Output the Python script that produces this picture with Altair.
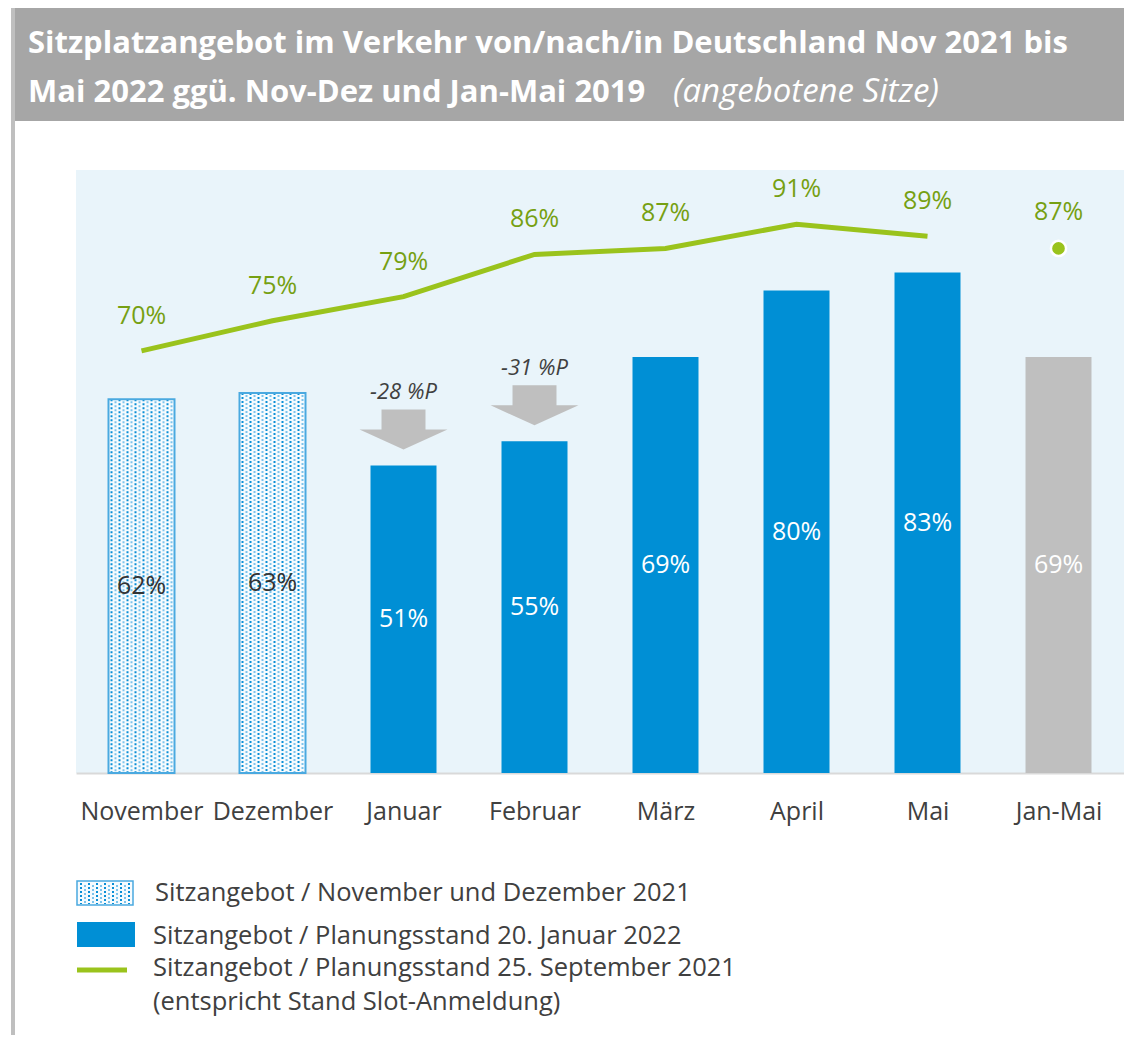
import altair as alt
import pandas as pd

categories = ["November", "Dezember", "Januar", "Februar", "März", "April", "Mai", "Jan-Mai"]
bar_values = [62, 63, 51, 55, 69, 80, 83, 69]
bar_kinds = ["dotted", "dotted", "blue", "blue", "blue", "blue", "blue", "gray"]
line_categories = ["November", "Dezember", "Januar", "Februar", "März", "April", "Mai"]
line_values = [70, 75, 79, 86, 87, 91, 89]
point_categories = ["Jan-Mai"]
point_values = [87]
arrow_categories = ["Januar", "Februar"]
arrow_labels = ["-28 %P", "-31 %P"]
title_line1 = "Sitzplatzangebot im Verkehr von/nach/in Deutschland Nov 2021 bis"
title_line2_bold = "Mai 2022 ggü. Nov-Dez und Jan-Mai 2019"
title_line2_italic = "(angebotene Sitze)"
legend_labels = [
    "Sitzangebot / November und Dezember 2021",
    "Sitzangebot / Planungsstand 20. Januar 2022",
    "Sitzangebot / Planungsstand 25. September 2021",
    "(entspricht Stand Slot-Anmeldung)",
]

FONT = "Open Sans"
TXT = "#404040"
BLUE = "#008fd5"
GRAY = "#bfbfbf"
GREEN = "#9ac31c"
GREEN_TXT = "#76a012"
DOT_BG = "#f6fbfe"
DOT = "#0a8fd6"
DOT_LIGHT = "#7cc4ec"

W, H = 1048, 603
idx = {c: i for i, c in enumerate(categories)}

bars = pd.DataFrame({
    "cat": categories,
    "i": list(range(len(categories))),
    "value": bar_values,
    "kind": bar_kinds,
    "label": [f"{v}%" for v in bar_values],
})
line_df = pd.DataFrame({
    "cat": line_categories,
    "i": [idx[c] for c in line_categories],
    "value": line_values,
    "label": [f"{v}%" for v in line_values],
})
point_df = pd.DataFrame({
    "cat": point_categories,
    "i": [idx[c] for c in point_categories],
    "value": point_values,
    "label": [f"{v}%" for v in point_values],
})
arrow_df = pd.DataFrame({
    "cat": arrow_categories,
    "i": [idx[c] for c in arrow_categories],
    "value": [bar_values[idx[c]] for c in arrow_categories],
    "label": arrow_labels,
})
one = pd.DataFrame({"k": [0]})

label_expr = "[" + ",".join(f"'{c}'" for c in categories) + "][datum.value]"
X = alt.X(
    "i:Q",
    scale=alt.Scale(domain=[-0.5, len(categories) - 0.5], nice=False, zero=False, padding=0),
    axis=alt.Axis(
        values=list(range(len(categories))), labelExpr=label_expr, title=None,
        ticks=False, tickSize=0, grid=False, domainColor="#d9d9d9", domainWidth=2,
        labelFont=FONT, labelFontSize=25, labelColor=TXT, labelPadding=38,
        labelBaseline="middle", labelAngle=0,
    ),
)
Y = alt.Y("value:Q", scale=alt.Scale(domain=[0, 100], nice=False), axis=None)

kind_scale = alt.Scale(domain=["dotted", "blue", "gray"], range=[DOT_BG, BLUE, GRAY])

bar_layer = alt.Chart(bars).mark_bar(size=66).encode(
    x=X, y=Y, color=alt.Color("kind:N", scale=kind_scale, legend=None)
)

dotted = bars[bars["kind"] == "dotted"]
dot_layers = []
for k in range(16):
    dot_layers.append(
        alt.Chart(dotted).mark_rule(
            xOffset=-30 + 4 * k, strokeDash=[2, 2], strokeDashOffset=(k % 2) * 2,
            strokeWidth=2, color=DOT if k % 2 == 0 else DOT_LIGHT,
        ).encode(x=X, y=Y, y2=alt.datum(0))
    )
dot_outline = alt.Chart(dotted).mark_bar(
    size=66, fillOpacity=0, stroke="#4aa9e0", strokeWidth=2
).encode(x=X, y=Y)

bar_text = alt.Chart(bars).transform_calculate(mid="datum.value / 2").mark_text(
    font=FONT, fontSize=25, baseline="middle"
).encode(
    x=X, y=alt.Y("mid:Q", scale=alt.Scale(domain=[0, 100], nice=False), axis=None),
    text="label:N",
    color=alt.condition(alt.datum.kind == "dotted", alt.value("#333333"), alt.value("white")),
)

line_layer = alt.Chart(line_df).mark_line(color=GREEN, strokeWidth=5).encode(x=X, y=Y)
line_text = alt.Chart(line_df).mark_text(
    font=FONT, fontSize=25, dy=-35, color=GREEN_TXT, baseline="middle"
).encode(x=X, y=Y, text="label:N")
point_layer = alt.Chart(point_df).mark_point(
    shape="circle", filled=True, size=230, fill=GREEN, stroke="white", strokeWidth=2.5, opacity=1
).encode(x=X, y=Y)
point_text = alt.Chart(point_df).mark_text(
    font=FONT, fontSize=25, dy=-36, color=GREEN_TXT, baseline="middle"
).encode(x=X, y=Y, text="label:N")

arrow_path = "M-0.5,-0.455L0.5,-0.455L0.5,0L1,0L0,0.455L-1,0L-0.5,0Z"
arrow_layer = alt.Chart(arrow_df).mark_point(
    shape=arrow_path, filled=True, size=88 * 88, color=GRAY, opacity=1, strokeWidth=0, yOffset=-36
).encode(x=X, y=Y)
arrow_text = alt.Chart(arrow_df).mark_text(
    font=FONT, fontSize=22, fontStyle="italic", color=TXT, dy=-73, baseline="middle"
).encode(x=X, y=Y, text="label:N")

# Title bar and frame
title_rect = alt.Chart(one).mark_rect(color="#a6a6a6").encode(
    x=alt.value(-65), x2=alt.value(W), y=alt.value(-162), y2=alt.value(-49)
)
left_border = alt.Chart(one).mark_rule(color=GRAY, strokeWidth=4).encode(
    x=alt.value(-63), y=alt.value(-162), y2=alt.value(870)
)
t1 = alt.Chart(one).mark_text(
    font=FONT, fontSize=31, fontWeight="bold", color="white", align="left", baseline="alphabetic"
).encode(x=alt.value(-48), y=alt.value(-117), text=alt.value(title_line1))
t2 = alt.Chart(one).mark_text(
    font=FONT, fontSize=31, fontWeight="bold", color="white", align="left", baseline="alphabetic"
).encode(x=alt.value(-48), y=alt.value(-68), text=alt.value(title_line2_bold))
t3 = alt.Chart(one).mark_text(
    font=FONT, fontSize=33, fontStyle="italic", color="white", align="left", baseline="alphabetic"
).encode(x=alt.value(597), y=alt.value(-68), text=alt.value(title_line2_italic))

# Legend
lg_rect1 = alt.Chart(one).mark_rect(color=DOT_BG, stroke="#4aa9e0", strokeWidth=1.5).encode(
    x=alt.value(1), x2=alt.value(57), y=alt.value(711), y2=alt.value(735)
)
lg_dots = []
for k in range(13):
    lg_dots.append(
        alt.Chart(one).mark_rule(
            strokeDash=[2, 2], strokeDashOffset=(k % 2) * 2, strokeWidth=2,
            color=DOT if k % 2 == 0 else DOT_LIGHT,
        ).encode(x=alt.value(5 + 4 * k), y=alt.value(713), y2=alt.value(734))
    )
lg_rect2 = alt.Chart(one).mark_rect(color=BLUE).encode(
    x=alt.value(1), x2=alt.value(59), y=alt.value(752), y2=alt.value(777)
)
lg_line = alt.Chart(one).mark_rule(color=GREEN, strokeWidth=5).encode(
    x=alt.value(1), x2=alt.value(51), y=alt.value(800)
)
lg_texts = []
for lbl, (lx, ly) in zip(legend_labels, [(79, 723), (77, 766), (77, 798), (77, 832)]):
    lg_texts.append(
        alt.Chart(one).mark_text(
            font=FONT, fontSize=25.5, color=TXT, align="left", baseline="middle"
        ).encode(x=alt.value(lx), y=alt.value(ly), text=alt.value(lbl))
    )

chart = alt.layer(
    title_rect, left_border, t1, t2, t3,
    bar_layer, *dot_layers, dot_outline, bar_text,
    arrow_layer, arrow_text,
    line_layer, line_text, point_layer, point_text,
    lg_rect1, *lg_dots, lg_rect2, lg_line, *lg_texts,
).properties(
    width=W, height=H,
    autosize=alt.AutoSizeParams(type="none"),
    padding={"left": 68, "top": 162, "right": 0, "bottom": 262},
).configure(background="white").configure_view(fill="#e9f4fa", strokeWidth=0)

chart.save("out.html", embed_options={"renderer": "svg", "actions": False})
